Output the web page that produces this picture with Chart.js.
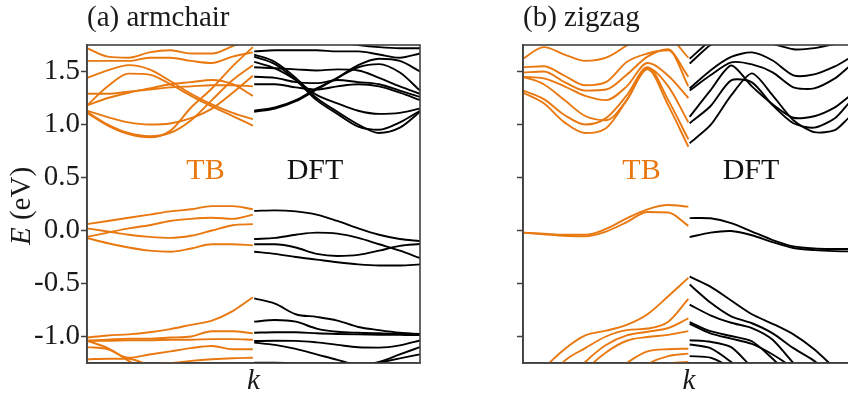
<!DOCTYPE html>
<html><head><meta charset="utf-8">
<script src="https://cdn.jsdelivr.net/npm/chart.js@4.4.1/dist/chart.umd.min.js"></script>
<style>
html,body{margin:0;padding:0;background:#fff;overflow:hidden;width:848px;height:396px;}
#wrapA{position:absolute;left:0;top:0;width:430px;height:396px;}
#wrapB{position:absolute;left:430px;top:0;width:430px;height:396px;}
</style></head><body>
<div id="wrapA"><canvas id="cA" width="430" height="396"></canvas></div>
<div id="wrapB"><canvas id="cB" width="430" height="396"></canvas></div>
<script>
// k positions (TB on left half, DFT on right half of each panel)
const kTB = [0, 0.0625, 0.125, 0.1875, 0.25, 0.3125, 0.375, 0.4375, 0.498];
const kDFT = [0.502, 0.5645, 0.627, 0.6895, 0.752, 0.8145, 0.877, 0.9395, 1.0];
const kDFTzig = [0.502, 0.5645, 0.627, 0.6895, 0.752, 0.8145, 0.877, 0.9395, 0.98];

const yTickValues = [-1.0, -0.5, 0.0, 0.5, 1.0, 1.5];
const yTickLabels = ['-1.0', '-0.5', '0.0', '0.5', '1.0', '1.5'];

// (a) armchair, tight-binding bands (eV)
const armchairTB = [
  [1.72, 1.64, 1.63, 1.68, 1.70, 1.67, 1.67, 1.74, 1.81],
  [1.60, 1.60, 1.60, 1.63, 1.63, 1.60, 1.58, 1.64, 1.68],
  [1.44, 1.51, 1.56, 1.52, 1.41, 1.29, 1.19, 1.11, 1.05],
  [1.18, 1.36, 1.48, 1.47, 1.38, 1.27, 1.17, 1.08, 0.99],
  [1.29, 1.29, 1.31, 1.33, 1.35, 1.36, 1.37, 1.37, 1.36],
  [1.18, 1.25, 1.30, 1.34, 1.38, 1.40, 1.42, 1.38, 1.27],
  [1.13, 1.07, 1.02, 1.00, 1.01, 1.06, 1.15, 1.30, 1.46],
  [1.12, 1.00, 0.92, 0.89, 0.92, 1.04, 1.23, 1.42, 1.56],
  [1.11, 0.99, 0.91, 0.88, 0.94, 1.16, 1.34, 1.55, 1.73],
  [0.06, 0.09, 0.12, 0.15, 0.18, 0.20, 0.23, 0.23, 0.20],
  [-0.06, -0.02, 0.02, 0.05, 0.09, 0.11, 0.12, 0.11, 0.15],
  [0.02, -0.01, -0.04, -0.06, -0.07, -0.05, 0.00, 0.05, 0.06],
  [-0.07, -0.12, -0.16, -0.19, -0.20, -0.17, -0.13, -0.13, -0.14],
  [-1.01, -0.99, -0.98, -0.96, -0.93, -0.89, -0.85, -0.76, -0.63],
  [-1.04, -1.03, -1.02, -1.02, -1.01, -1.00, -0.95, -0.95, -0.97],
  [-1.04, -1.04, -1.035, -1.035, -1.03, -1.03, -1.025, -1.025, -1.03],
  [-1.10, -1.12, -1.20, -1.17, -1.14, -1.11, -1.09, -1.12, -1.12],
  [-1.215, -1.21, -1.21, -1.26, -1.25, -1.23, -1.215, -1.205, -1.20],
  [-1.04, -1.11, -1.23, -1.33, -1.40, -1.39, -1.33, -1.29, -1.27]
];
// (a) armchair, DFT bands (eV)
const armchairDFT = [
  [1.81, 1.83, 1.83, 1.81, 1.78, 1.75, 1.73, 1.72, 1.72],
  [1.69, 1.70, 1.70, 1.70, 1.69, 1.69, 1.66, 1.63, 1.67],
  [1.13, 1.16, 1.23, 1.34, 1.44, 1.56, 1.62, 1.60, 1.50],
  [1.12, 1.15, 1.22, 1.33, 1.44, 1.54, 1.57, 1.49, 1.32],
  [1.66, 1.59, 1.44, 1.25, 1.12, 1.00, 0.92, 0.97, 1.12],
  [1.64, 1.57, 1.42, 1.23, 1.10, 0.98, 0.95, 1.02, 1.13],
  [1.59, 1.53, 1.42, 1.28, 1.20, 1.13, 1.10, 1.11, 1.15],
  [1.54, 1.53, 1.52, 1.51, 1.52, 1.51, 1.44, 1.36, 1.29],
  [1.45, 1.44, 1.40, 1.39, 1.42, 1.40, 1.38, 1.32, 1.26],
  [1.38, 1.38, 1.35, 1.33, 1.36, 1.38, 1.36, 1.30, 1.23],
  [0.185, 0.19, 0.18, 0.15, 0.09, 0.02, -0.04, -0.08, -0.10],
  [-0.08, -0.07, -0.04, -0.02, -0.03, -0.07, -0.13, -0.19, -0.26],
  [-0.13, -0.13, -0.16, -0.22, -0.24, -0.23, -0.19, -0.145, -0.128],
  [-0.20, -0.22, -0.25, -0.275, -0.30, -0.32, -0.33, -0.33, -0.32],
  [-0.64, -0.69, -0.79, -0.815, -0.85, -0.91, -0.94, -0.965, -0.98],
  [-0.86, -0.845, -0.86, -0.925, -0.955, -0.965, -0.97, -0.974, -0.975],
  [-0.964, -0.96, -0.96, -0.97, -0.976, -0.98, -0.983, -0.985, -0.987],
  [-1.043, -1.04, -1.041, -1.055, -1.079, -1.102, -1.105, -1.084, -1.037],
  [-1.058, -1.079, -1.117, -1.168, -1.22, -1.267, -1.239, -1.168, -1.10],
  [-1.59, -1.59, -1.55, -1.45, -1.36, -1.29, -1.248, -1.206, -1.168],
  [-1.248, -1.248, -1.262, -1.309, -1.384, -1.45, -1.50, -1.52, -1.52]
];
// (b) zigzag, tight-binding bands (eV)
const zigzagTB = [
  [1.62, 1.73, 1.66, 1.60, 1.63, 1.745, 1.86, 1.83, 1.63],
  [1.54, 1.55, 1.46, 1.37, 1.40, 1.59, 1.67, 1.70, 1.45],
  [1.49, 1.50, 1.40, 1.32, 1.33, 1.47, 1.64, 1.71, 1.36],
  [1.45, 1.435, 1.36, 1.27, 1.23, 1.36, 1.58, 1.46, 1.25],
  [1.45, 1.38, 1.23, 1.08, 1.04, 1.23, 1.53, 1.36, 1.02],
  [1.32, 1.24, 1.09, 1.00, 1.06, 1.275, 1.54, 1.23, 0.86],
  [1.30, 1.20, 1.02, 0.92, 0.965, 1.23, 1.52, 1.18, 0.79],
  [-0.02, -0.03, -0.04, -0.04, 0.015, 0.115, 0.20, 0.24, 0.225],
  [-0.02, -0.035, -0.05, -0.055, -0.01, 0.08, 0.175, 0.17, 0.044],
  [-1.50, -1.30, -1.12, -0.99, -0.945, -0.89, -0.79, -0.62, -0.447],
  [-1.70, -1.45, -1.23, -1.11, -1.00, -0.94, -0.925, -0.86, -0.645],
  [-1.90, -1.70, -1.45, -1.24, -1.08, -0.99, -0.955, -0.92, -0.83],
  [-1.95, -1.80, -1.55, -1.32, -1.15, -1.04, -1.005, -0.985, -0.949],
  [-2.0, -1.9, -1.8, -1.60, -1.40, -1.25, -1.14, -1.12, -1.115],
  [-2.0, -2.0, -1.9, -1.8, -1.6, -1.40, -1.26, -1.185, -1.162],
  [-2.0, -2.0, -2.0, -1.9, -1.7, -1.55, -1.40, -1.255, -1.24]
];
// (b) zigzag, DFT bands (eV)
const zigzagDFT = [
  [1.62, 1.79, 1.90, 1.95, 1.95, 1.90, 1.88, 1.85, 1.80],
  [1.575, 1.75, 1.86, 1.90, 1.88, 1.85, 1.83, 1.80, 1.78],
  [1.90, 1.90, 1.85, 1.80, 1.76, 1.71, 1.72, 1.76, 1.78],
  [1.34, 1.51, 1.637, 1.68, 1.604, 1.464, 1.473, 1.548, 1.62],
  [1.32, 1.464, 1.586, 1.567, 1.492, 1.351, 1.341, 1.435, 1.54],
  [1.073, 1.322, 1.557, 1.36, 1.19, 1.064, 1.078, 1.162, 1.26],
  [1.012, 1.172, 1.416, 1.398, 1.181, 1.012, 0.97, 1.059, 1.197],
  [0.824, 0.993, 1.275, 1.482, 1.275, 1.04, 0.928, 0.947, 1.06],
  [0.117, 0.115, 0.07, -0.01, -0.09, -0.15, -0.17, -0.175, -0.175],
  [-0.062, -0.02, -0.005, -0.045, -0.11, -0.165, -0.185, -0.195, -0.197],
  [-0.435, -0.53, -0.66, -0.79, -0.88, -0.98, -1.12, -1.30, -1.41],
  [-0.51, -0.68, -0.81, -0.875, -0.97, -1.11, -1.23, -1.40, -1.50],
  [-0.70, -0.80, -0.87, -0.92, -1.03, -1.25, -1.42, -1.55, -1.60],
  [-0.865, -0.95, -0.995, -1.045, -1.21, -1.40, -1.55, -1.60, -1.60],
  [-0.88, -0.97, -1.02, -1.07, -1.17, -1.30, -1.45, -1.55, -1.60],
  [-1.035, -1.05, -1.10, -1.29, -1.45, -1.55, -1.60, -1.60, -1.60],
  [-1.075, -1.11, -1.24, -1.40, -1.55, -1.60, -1.60, -1.60, -1.60],
  [-1.185, -1.20, -1.30, -1.45, -1.60, -1.60, -1.60, -1.60, -1.60]
];

const ORANGE = '#e8780f';
const BLACK = '#000000';
const FONT = "'Liberation Serif', 'Times New Roman', serif";
const TXT = '#1a1a1a';
const AX = '#404040';

function bandSets(bands, ks, color, smooth) {
  return bands.map(b => ({
    data: b.map((e, i) => ({x: ks[i], y: e})),
    borderColor: color, borderWidth: 1.9, pointRadius: 0, fill: false,
    cubicInterpolationMode: smooth ? 'monotone' : 'default',
    tension: smooth ? 0.4 : 0.25
  }));
}

function decor(showYTitle) {
  return {
    id: 'decor',
    afterDatasetsDraw(chart) {
      const {ctx, chartArea: a} = chart;
      ctx.save();
      ctx.strokeStyle = AX; ctx.lineWidth = 1.6;
      ctx.strokeRect(a.left, a.top, a.right - a.left, a.bottom - a.top);
      ctx.font = '30px ' + FONT;
      ctx.textAlign = 'center'; ctx.textBaseline = 'alphabetic';
      ctx.fillStyle = ORANGE; ctx.fillText('TB', a.left + 118.5, 178.5);
      ctx.fillStyle = '#111'; ctx.fillText('DFT', a.left + 228, 178.5);
      if (showYTitle) {
        ctx.translate(30, 206); ctx.rotate(-Math.PI / 2);
        const fi = 'italic 29px ' + FONT, fr = '29px ' + FONT;
        ctx.font = fi; const w1 = ctx.measureText('E').width;
        ctx.font = fr; const w2 = ctx.measureText(' (eV)').width;
        const x0 = -(w1 + w2) / 2;
        ctx.textAlign = 'left'; ctx.fillStyle = TXT;
        ctx.font = fi; ctx.fillText('E', x0, 0);
        ctx.font = fr; ctx.fillText(' (eV)', x0 + w1, 0);
      }
      ctx.restore();
    }
  };
}

function makeChart(id, title, datasets, leftW, padRight, showLabels) {
  return new Chart(document.getElementById(id), {
    type: 'line',
    data: {datasets},
    options: {
      responsive: false, animation: false, devicePixelRatio: 1,
      layout: {padding: {left: 0, right: padRight, top: 0, bottom: 0}},
      plugins: {
        legend: {display: false}, tooltip: {enabled: false},
        title: {display: true, text: title, align: 'start', fullSize: false,
          font: {family: FONT, size: 29, weight: 'normal', lineHeight: 1},
          color: TXT, padding: {top: 4, bottom: 12}}
      },
      scales: {
        x: {type: 'linear', min: 0, max: 1,
          afterFit(s) { s.height = 33; },
          ticks: {display: false}, grid: {display: false},
          border: {display: true, color: AX, width: 1.6},
          title: {display: true, text: 'k', color: TXT,
            font: {family: FONT, size: 29, style: 'italic', lineHeight: 1},
            padding: {top: 0, bottom: 0}}},
        y: {type: 'linear', min: -1.25, max: 1.75,
          afterBuildTicks(s) { s.ticks = yTickValues.map(v => ({value: v})); },
          afterFit(s) { s.width = leftW; },
          ticks: {display: true, padding: 1, color: TXT,
            font: {family: FONT, size: 29},
            callback(v) { if (!showLabels) return ''; const i = yTickValues.indexOf(v); return i >= 0 ? yTickLabels[i] : ''; }},
          grid: {display: true, drawOnChartArea: false, drawTicks: true, tickLength: 6, tickWidth: 1.5, tickColor: AX},
          border: {display: true, color: AX, width: 1.6}}
      }
    },
    plugins: [decor(showLabels)]
  });
}

makeChart('cA', '(a) armchair',
  bandSets(armchairTB, kTB, ORANGE, true).concat(bandSets(armchairDFT, kDFT, BLACK, true)), 87, 10, true);
makeChart('cB', '(b) zigzag',
  bandSets(zigzagTB, kTB, ORANGE, true).concat(bandSets(zigzagDFT, kDFTzig, BLACK, false)), 93, 5, false);
</script>
</body></html>
